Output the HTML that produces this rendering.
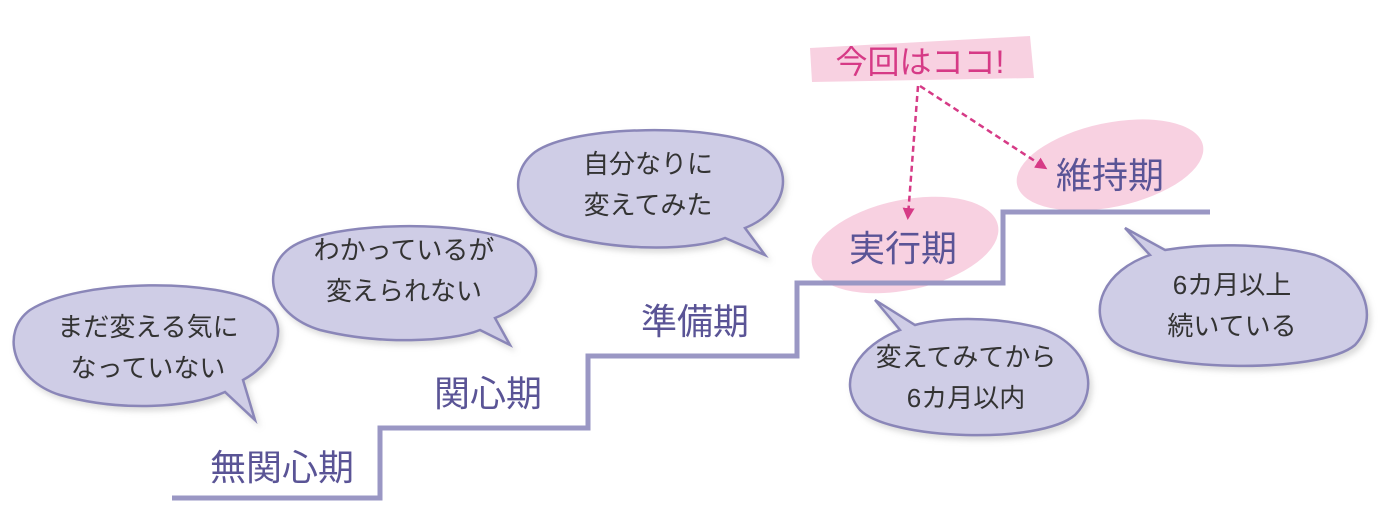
<!DOCTYPE html>
<html><head><meta charset="utf-8"><style>
html,body{margin:0;padding:0;background:#fff;}
svg{display:block;}
text{font-family:"Liberation Sans","Noto Sans CJK JP",sans-serif;}
.b{fill:#cfcde6;stroke:#8a86b8;stroke-width:2.5;}
.bt{font-size:26px;fill:#333;text-anchor:middle;}
.lb{font-size:36px;fill:#5a5496;text-anchor:middle;}
</style></head><body>
<svg width="1390" height="524" viewBox="0 0 1390 524">
<defs>
<filter id="s" x="-10%" y="-10%" width="130%" height="130%"><feDropShadow dx="3" dy="4" stdDeviation="3" flood-color="#999" flood-opacity="0.35"/></filter>
<marker id="ah" markerWidth="12" markerHeight="12" refX="8" refY="6" orient="auto" markerUnits="userSpaceOnUse"><path d="M0,0 L12,6 L0,12 Z" fill="#d63a86"/></marker>
</defs>
<g fill="#f7c9dc" opacity="0.85">
<path d="M810,48 L1030,36 L1034,78 L812,82 Z"/>
<ellipse cx="905" cy="245" rx="95" ry="45" transform="rotate(-12 905 245)"/>
<ellipse cx="1110" cy="165" rx="95" ry="42" transform="rotate(-12 1110 165)"/>
</g>
<polyline points="172,498 380,498 380,428 588,428 588,356 797,356 797,283 1003,283 1003,212 1210,212" fill="none" stroke="#9a97c4" stroke-width="5"/>
<path class="b" filter="url(#s)" d="M243,380 C280,360 290,320 262,305 C220,278 80,278 30,310 C0,332 12,380 60,395 C120,412 190,408 225,392 L255,420 Z"/>
<text class="bt" x="148" y="336">まだ変える気に</text><text class="bt" x="148" y="377">なっていない</text>
<path class="b" filter="url(#s)" d="M495,318 C540,300 550,260 515,242 C470,220 330,220 290,248 C260,270 270,315 320,330 C380,345 450,342 480,330 L510,345 Z"/>
<text class="bt" x="404" y="259">わかっているが</text><text class="bt" x="404" y="300">変えられない</text>
<path class="b" filter="url(#s)" d="M745,228 C790,210 795,165 760,146 C715,124 575,124 535,152 C505,175 515,220 565,236 C625,252 695,250 725,238 L765,255 Z"/>
<text class="bt" x="648" y="173">自分なりに</text><text class="bt" x="648" y="214">変えてみた</text>
<path class="b" filter="url(#s)" d="M900,330 C860,345 835,380 860,410 C890,440 1040,445 1075,415 C1100,390 1090,345 1040,328 C990,315 940,318 915,325 L875,300 Z"/>
<text class="bt" x="966" y="366">変えてみてから</text><text class="bt" x="966" y="407">6カ月以内</text>
<path class="b" filter="url(#s)" d="M1150,255 C1105,270 1085,310 1112,340 C1145,372 1320,375 1355,345 C1380,318 1365,272 1315,255 C1265,242 1200,244 1165,250 L1125,228 Z"/>
<text class="bt" x="1232" y="294">6カ月以上</text><text class="bt" x="1232" y="335">続いている</text>
<text class="lb" x="282" y="480">無関心期</text>
<text class="lb" x="488" y="406">関心期</text>
<text class="lb" x="695" y="334">準備期</text>
<text class="lb" x="903" y="261">実行期</text>
<text class="lb" x="1110" y="188">維持期</text>
<text x="920" y="73" font-size="32" fill="#d63a86" text-anchor="middle">今回はココ!</text>
<line x1="918" y1="86" x2="908" y2="216" stroke="#d63a86" stroke-width="2.5" stroke-dasharray="6,4" marker-end="url(#ah)"/>
<line x1="920" y1="86" x2="1044" y2="167" stroke="#d63a86" stroke-width="2.5" stroke-dasharray="6,4" marker-end="url(#ah)"/>
</svg>
</body></html>
